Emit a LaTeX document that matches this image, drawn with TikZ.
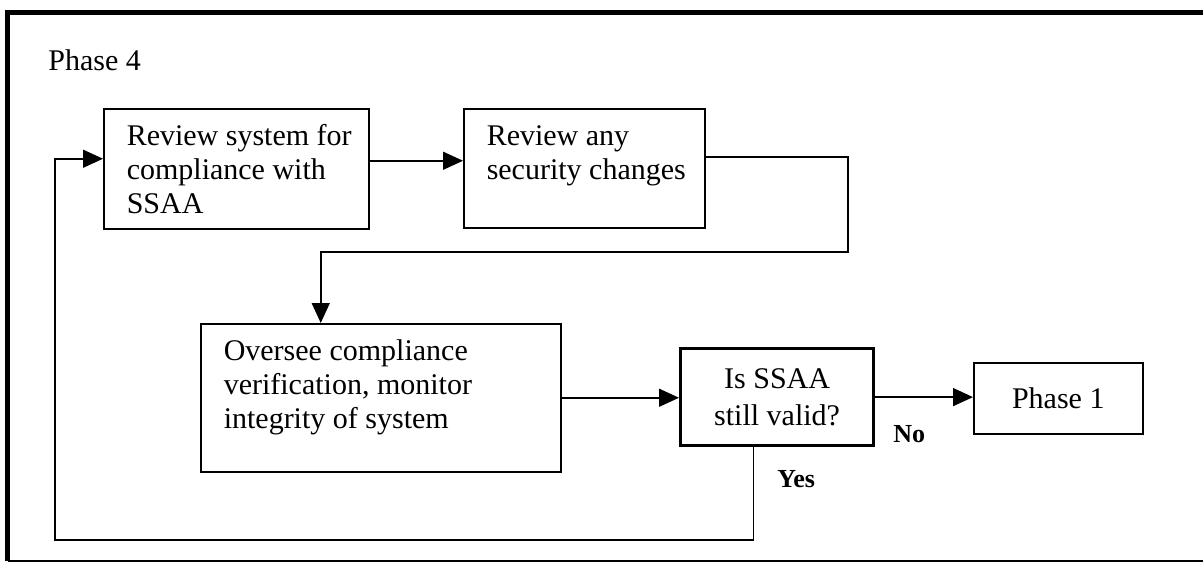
\documentclass[tikz,border=0pt]{standalone}
\usepackage{fontspec}
\setmainfont{Liberation Serif}
\usetikzlibrary{arrows.meta}
\newcommand{\steptext}[3]{\parbox[c][#2][t]{#1}{\begin{tabular}{@{}l@{}}#3\end{tabular}}}
\begin{document}
\begin{tikzpicture}[x=0.5pt, y=-0.5pt, font=\fontsize{15}{16.8}\selectfont]
        \tikzstyle{stepbox}=[draw, line width=0.75pt, anchor=north west, inner xsep=11.5pt, inner ysep=6.8pt]
        \tikzstyle{decision-box}=[draw, line width=1.6pt, anchor=north west, align=center, minimum width=96.5pt, minimum height=48.5pt]
        \tikzstyle{end-box}=[draw, line width=0.75pt, anchor=north west, minimum width=84.5pt, minimum height=35.5pt]
        \tikzstyle{flow} = [-{Triangle[length=10pt, width=9pt]}, line width=0.75pt]
        \tikzstyle{answer}=[anchor=base west, inner sep=0pt, font=\fontsize{13}{15}\selectfont\bfseries]

        \useasboundingbox (0,0) rectangle (1203,562);
        % frame
        \draw[line width=2.5pt] (7.5,561) -- (7.5,12.5) -- (1203,12.5);
        \draw[line width=0.75pt] (7.5,561) -- (1203,561);

        \node[anchor=base west, inner sep=0pt] (phase4) at (48,70) {Phase 4};
        \node[stepbox] (review) at (103,108) {\steptext{109.5pt}{46.4pt}{Review system for\\compliance with\\SSAA}};
        \node[stepbox] (changes) at (463,108) {\steptext{97.5pt}{45.9pt}{Review any\\security changes}};
        \node[stepbox] (oversee) at (200,323) {\steptext{157pt}{60.4pt}{Oversee compliance\\verification, monitor\\integrity of system}};
        \node[decision-box] (valid) at (679,347) {Is SSAA\\[1.5pt]still valid?};
        \node[end-box] (phase1) at (973,362) {Phase 1};
        \node[answer] (no) at (893,442) {No};
        \node[answer] (yes) at (777,487) {Yes};

        \coordinate (turn) at (848,252);
        \coordinate (back) at (55,540);

        \draw[flow] ([yshift=4pt]review.east) -- ([yshift=4pt]review.east -| changes.west);
        \draw[flow] ([yshift=5.75pt]changes.east) -| (turn) -| ([xshift=-30pt]oversee.north);
        \draw[flow] (oversee.east) -- (oversee.east -| valid.west);
        \draw[flow] (valid.east) -- (valid.east -| phase1.west);
        \draw[flow] ([xshift=-11.75pt]valid.south) |- (back) |- ([yshift=5pt]review.west);
    \end{tikzpicture}
\end{document}
